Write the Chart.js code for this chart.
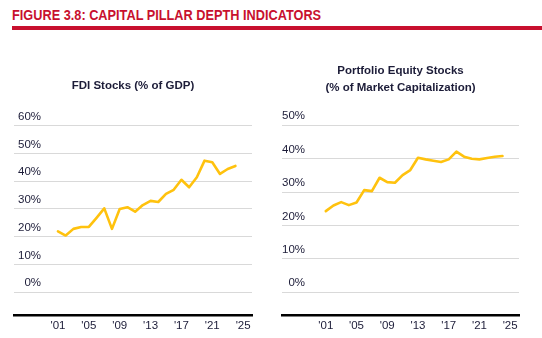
<!DOCTYPE html>
<html>
<head>
<meta charset="utf-8">
<script src="https://cdn.jsdelivr.net/npm/chart.js@4.4.1/dist/chart.umd.min.js"></script>
<style>
  html, body { margin: 0; padding: 0; background: #ffffff; }
  body { width: 542px; height: 338px; position: relative; overflow: hidden; }
  #fig-title {
    position: absolute; left: 12px; top: 8px; line-height: 14px;
    font-family: "Liberation Sans", Arial, sans-serif; font-weight: bold; font-size: 14px;
    color: #c8102e; white-space: nowrap; transform: scaleX(0.91); transform-origin: left top;
  }
  #fig-rule { position: absolute; left: 12px; top: 26px; width: 530px; height: 4px; background: #c8102e; }
  .wrap { position: absolute; top: 40px; width: 271px; height: 298px; }
  #w1 { left: 0; }
  #w2 { left: 271px; }
</style>
</head>
<body>
<div id="fig-title"></div>
<div id="fig-rule"></div>
<div class="wrap" id="w1"><canvas id="c1" width="271" height="298"></canvas></div>
<div class="wrap" id="w2"><canvas id="c2" width="271" height="298"></canvas></div>
<script>
const figureTitle = 'FIGURE 3.8: CAPITAL PILLAR DEPTH INDICATORS';
const years = [2001, 2002, 2003, 2004, 2005, 2006, 2007, 2008, 2009, 2010, 2011, 2012,
               2013, 2014, 2015, 2016, 2017, 2018, 2019, 2020, 2021, 2022, 2023, 2024];
const fdiStocks = [21.9, 20.4, 22.8, 23.5, 23.5, 26.8, 30.2, 22.8, 30.0, 30.6, 29.0, 31.4,
                   32.9, 32.5, 35.4, 36.9, 40.5, 37.8, 41.4, 47.4, 46.8, 42.6, 44.4, 45.5];
const portfolioEquity = [24.3, 26.0, 27.0, 26.1, 26.9, 30.6, 30.3, 34.3, 33.0, 32.8, 35.1, 36.6,
                         40.3, 39.8, 39.4, 39.0, 39.8, 42.1, 40.6, 40.0, 39.8, 40.2, 40.6, 40.8];
const xTickYears = [2001, 2005, 2009, 2013, 2017, 2021, 2025];
const fdiYTicks = [0, 10, 20, 30, 40, 50, 60];
const peYTicks = [0, 10, 20, 30, 40, 50];
const fdiTitle = 'FDI Stocks (% of GDP)';
const peTitle = ['Portfolio Equity Stocks', '(% of Market Capitalization)'];

document.getElementById('fig-title').textContent = figureTitle;

const lineColor = '#ffc20e';
const textColor = '#1c1c38';
const tickFont = { family: '"Liberation Sans", Arial, sans-serif', size: 11.5 };

function makeChart(id, values, yTicks, yMin, title, titleCfg, pad) {
  return new Chart(document.getElementById(id), {
    type: 'line',
    data: {
      datasets: [{
        data: years.map((y, i) => ({ x: y, y: values[i] })),
        borderColor: lineColor,
        borderWidth: 2.6,
        pointRadius: 0,
        tension: 0,
        borderJoinStyle: 'round',
        borderCapStyle: 'round',
        fill: false
      }]
    },
    options: {
      responsive: false,
      animation: false,
      devicePixelRatio: 1,
      layout: { padding: { left: pad.left, right: pad.right, top: pad.top, bottom: pad.bottom } },
      plugins: {
        legend: { display: false },
        tooltip: { enabled: false },
        title: {
          display: true,
          text: title,
          color: textColor,
          font: { family: '"Liberation Sans", Arial, sans-serif', size: 11.5, weight: 'bold', lineHeight: titleCfg.lineHeight },
          padding: titleCfg.padding
        }
      },
      scales: {
        x: {
          type: 'linear',
          min: 1995.3,
          max: 2026.15,
          afterBuildTicks: (s) => { s.ticks = xTickYears.map(v => ({ value: v })); },
          grid: { display: false, drawTicks: false },
          border: { display: true, color: '#000000', width: 2.5 },
          ticks: {
            autoSkip: false, maxRotation: 0, padding: 3,
            color: textColor, font: tickFont,
            callback: (v) => "'" + String(v).slice(2)
          }
        },
        y: {
          type: 'linear',
          min: yMin,
          max: yTicks[yTicks.length - 1],
          afterBuildTicks: (s) => { s.ticks = yTicks.map(v => ({ value: v })); },
          afterFit: (s) => { s.width = 0; },
          grid: { color: '#d9d9d9', lineWidth: 1, drawTicks: false },
          border: { display: false },
          ticks: {
            mirror: true, crossAlign: 'far', padding: pad.labelPad, labelOffset: -9,
            color: textColor, font: tickFont,
            callback: (v) => v + '%'
          }
        }
      }
    }
  });
}

makeChart('c1', fdiStocks, fdiYTicks, -8.5, fdiTitle,
  { lineHeight: 1.2, padding: { top: 39.4, bottom: 32.5 } },
  { left: 14, right: 19, top: 0, bottom: 2.5, labelPad: 4 });
makeChart('c2', portfolioEquity, peYTicks, -7.0, peTitle,
  { lineHeight: 17 / 11.5, padding: { top: 22.5, bottom: 28.8 } },
  { left: 11, right: 23, top: 0, bottom: 2.5, labelPad: 0 });
</script>
</body>
</html>
